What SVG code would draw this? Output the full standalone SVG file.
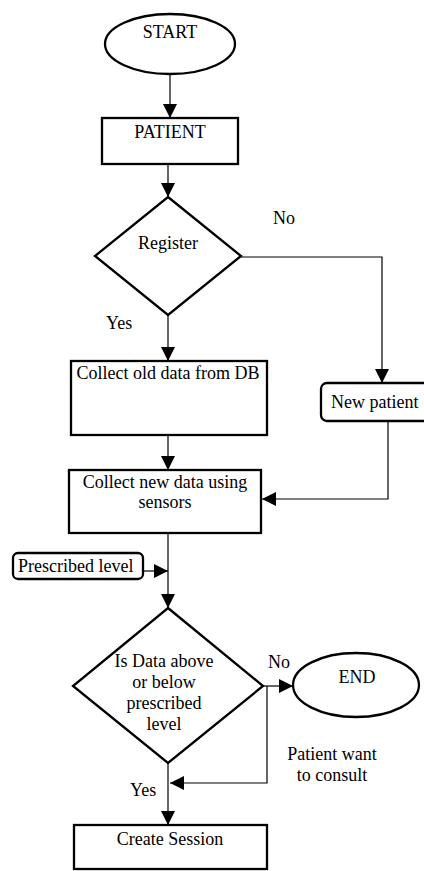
<svg xmlns="http://www.w3.org/2000/svg" width="424" height="871" viewBox="0 0 424 871">
<style>
.shape{fill:#fff;stroke:#000;stroke-width:2.3}
.conn{fill:none;stroke:#000;stroke-width:1.2}
text{font-family:"Liberation Serif","Times New Roman",serif;font-size:18px;fill:#000}
.c{text-anchor:middle}
</style>
<defs>
<marker id="arr" markerUnits="userSpaceOnUse" markerWidth="14" markerHeight="14" refX="14" refY="7" orient="auto">
<path d="M0,0 L14,7 L0,14 z" fill="#000"/>
</marker>
</defs>
<g id="connectors">
<path class="conn" d="M170,74 V118" marker-end="url(#arr)"/>
<path class="conn" d="M168,164 V197" marker-end="url(#arr)"/>
<path class="conn" d="M241,257 H382 V383" marker-end="url(#arr)"/>
<path class="conn" d="M168,315 V361" marker-end="url(#arr)"/>
<path class="conn" d="M168,432 V470" marker-end="url(#arr)"/>
<path class="conn" d="M388,421 V499 H262" marker-end="url(#arr)"/>
<path class="conn" d="M168,533 V608" marker-end="url(#arr)"/>
<path class="conn" d="M143,571 H168" marker-end="url(#arr)"/>
<path class="conn" d="M263,686 H293" marker-end="url(#arr)"/>
<path class="conn" d="M267,686 V783 H170" marker-end="url(#arr)"/>
<path class="conn" d="M168,763 V825" marker-end="url(#arr)"/>
</g>
<g id="start">
<ellipse class="shape" cx="170" cy="44" rx="65" ry="30"/>
<text class="c" x="170" y="38">START</text>
</g>
<g id="patient">
<rect class="shape" x="102" y="118" width="136" height="46"/>
<text class="c" x="170" y="138">PATIENT</text>
</g>
<g id="register">
<polygon class="shape" points="168,197 241,256 168,315 95,256"/>
<text class="c" x="168" y="249">Register</text>
</g>
<g id="label-no-1"><text x="273" y="224">No</text></g>
<g id="label-yes-1"><text x="106" y="329">Yes</text></g>
<g id="old-data">
<rect class="shape" x="71" y="361" width="196" height="74"/>
<text class="c" x="168" y="379">Collect old data from DB</text>
</g>
<g id="new-patient">
<rect class="shape" x="321" y="383" width="110" height="38" rx="6"/>
<text x="331" y="408">New patient</text>
</g>
<g id="new-data">
<rect class="shape" x="69" y="470" width="192" height="63"/>
<text class="c" x="165" y="488">Collect new data using</text>
<text class="c" x="165" y="508">sensors</text>
</g>
<g id="prescribed">
<rect class="shape" x="13" y="553" width="130" height="26" rx="5"/>
<text x="18" y="572">Prescribed level</text>
</g>
<g id="decision">
<polygon class="shape" points="168,608 263,686 168,763 73,686"/>
<text class="c" x="164" y="667">Is Data above</text>
<text class="c" x="164" y="688">or below</text>
<text class="c" x="164" y="709">prescribed</text>
<text class="c" x="164" y="730">level</text>
</g>
<g id="label-no-2"><text x="268" y="668">No</text></g>
<g id="end">
<ellipse class="shape" cx="356" cy="685" rx="63" ry="32"/>
<text class="c" x="357" y="683">END</text>
</g>
<g id="label-consult">
<text class="c" x="332" y="760">Patient want</text>
<text class="c" x="332" y="781">to consult</text>
</g>
<g id="label-yes-2"><text x="130" y="796">Yes</text></g>
<g id="session">
<rect class="shape" x="74" y="825" width="193" height="44"/>
<text class="c" x="170" y="845">Create Session</text>
</g>
</svg>
